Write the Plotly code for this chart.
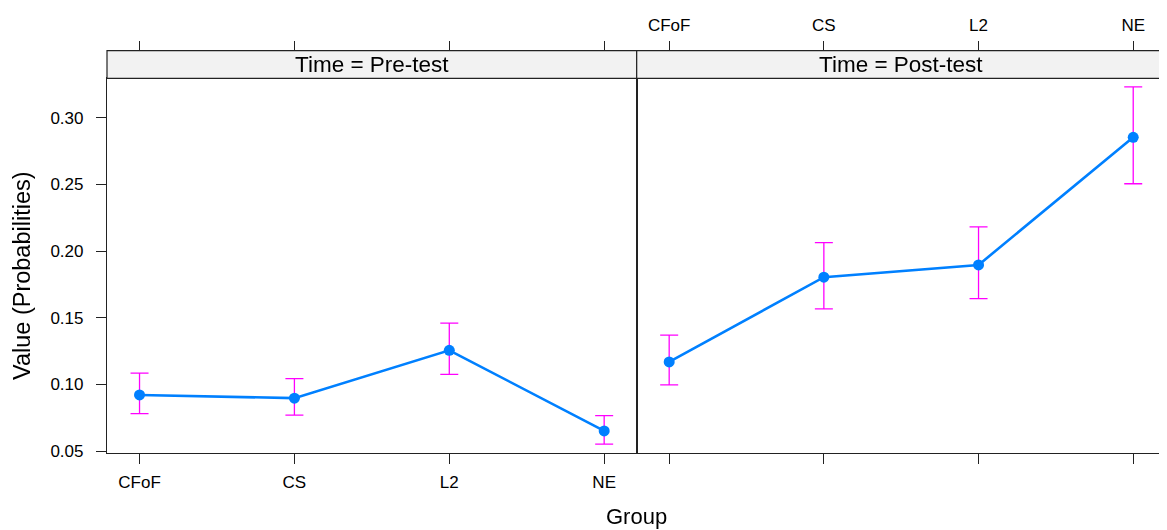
import plotly.graph_objects as go

# ---- data ----
groups = ["CFoF", "CS", "L2", "NE"]
panels = ["Pre-test", "Post-test"]
pre_value = [0.0921, 0.0897, 0.1256, 0.0651]
pre_upper = [0.1084, 0.1043, 0.1459, 0.0766]
pre_lower = [0.0781, 0.0769, 0.1076, 0.0552]
post_value = [0.1169, 0.1804, 0.1896, 0.2853]
post_upper = [0.1369, 0.2063, 0.2181, 0.3232]
post_lower = [0.0996, 0.1566, 0.1643, 0.2505]
y_ticks = [0.05, 0.10, 0.15, 0.20, 0.25, 0.30]
y_ticktext = ["0.05", "0.10", "0.15", "0.20", "0.25", "0.30"]

# page body has an 8px margin; vertical positions are corrected for the
# slight vertical squeeze observed in the captured page
OFF = 8
W, H = 1167 - OFF, 530 - OFF
SY = 538 / 530
FONT = "Liberation Sans, Arial, Helvetica, sans-serif"
BLUE = "#0080FF"
MAG = "#FF00FF"

def px_x(p):
    return (p - OFF) / W

def px_y(p):
    return (H - (p * SY - OFF)) / H

xl0, xl1, xr1 = px_x(107), px_x(636.7), px_x(1165.7)
yb, yt = px_y(453.3), px_y(78.3)
strip_top = px_y(50.5)
xrange_ = [-0.21, 3.21]
yrange_ = [0.0484, 0.3295]
xidx = list(range(len(groups)))

fig = go.Figure()
for i, (vals, up, lo) in enumerate([(pre_value, pre_upper, pre_lower),
                                    (post_value, post_upper, post_lower)]):
    xa = "x" if i == 0 else "x2"
    ya = "y" if i == 0 else "y2"
    fig.add_trace(go.Scatter(
        x=xidx, y=vals, xaxis=xa, yaxis=ya, mode="lines+markers",
        line=dict(color=BLUE, width=2.6),
        marker=dict(color=BLUE, size=11),
        error_y=dict(type="data", symmetric=False,
                     array=[u - v for u, v in zip(up, vals)],
                     arrayminus=[v - l for v, l in zip(vals, lo)],
                     color=MAG, thickness=1.3, width=9),
        showlegend=False, hoverinfo="skip"))

# invisible traces so the top tick axes are drawn
fig.add_trace(go.Scatter(x=xidx, y=pre_value, xaxis="x3", yaxis="y",
                         mode="markers", opacity=0, showlegend=False, hoverinfo="skip"))
fig.add_trace(go.Scatter(x=xidx, y=post_value, xaxis="x4", yaxis="y2",
                         mode="markers", opacity=0, showlegend=False, hoverinfo="skip"))

tickfont = dict(family=FONT, size=17, color="black")
LINE = "#222222"
common_x = dict(range=xrange_, tickvals=xidx, ticktext=groups, ticks="outside",
                ticklen=10, tickcolor=LINE, showgrid=False, zeroline=False,
                showline=True, linecolor=LINE, linewidth=1.2, mirror=True,
                tickfont=tickfont, ticklabelstandoff=3)
top_x = dict(anchor="free", position=strip_top, side="top", range=xrange_,
             tickvals=xidx, ticktext=groups, ticks="outside", ticklen=10,
             tickcolor=LINE, showgrid=False, zeroline=False, showline=False,
             tickfont=tickfont, ticklabelstandoff=3)
fig.update_layout(
    width=W, height=H, margin=dict(l=0, r=0, t=0, b=0),
    paper_bgcolor="white", plot_bgcolor="white",
    font=dict(family=FONT, color="black"),
    xaxis=dict(domain=[xl0, xl1], anchor="y", showticklabels=True, **common_x),
    xaxis2=dict(domain=[xl1, xr1], anchor="y2", showticklabels=False, **common_x),
    xaxis3=dict(domain=[xl0, xl1], overlaying="x", showticklabels=False, **top_x),
    xaxis4=dict(domain=[xl1, xr1], overlaying="x2", showticklabels=True, **top_x),
    yaxis=dict(domain=[yb, yt], anchor="x", range=yrange_, tickvals=y_ticks,
               ticktext=y_ticktext, ticks="outside", ticklen=10, tickcolor=LINE,
               showgrid=False, zeroline=False, showline=True, linecolor=LINE,
               linewidth=1.2, mirror=True, tickfont=tickfont, ticklabelstandoff=9),
    yaxis2=dict(domain=[yb, yt], anchor="x2", range=yrange_, tickvals=y_ticks,
                ticks="", showticklabels=False, showgrid=False, zeroline=False,
                showline=True, linecolor=LINE, linewidth=1.2, mirror=True),
)

for (a, b), name in zip([(xl0, xl1), (xl1, xr1)], panels):
    fig.add_shape(type="rect", xref="paper", yref="paper", x0=a, x1=b,
                  y0=yt, y1=strip_top, fillcolor="#F2F2F2",
                  line=dict(color=LINE, width=1.2), layer="above")
    fig.add_annotation(xref="paper", yref="paper", x=(a + b) / 2,
                       y=(yt + strip_top) / 2, text=f"Time = {name}",
                       showarrow=False, font=dict(family=FONT, size=22.5, color="black"),
                       xanchor="center", yanchor="middle")

fig.add_annotation(xref="paper", yref="paper", x=(xl0 + xr1) / 2, y=px_y(517),
                   text="Group", showarrow=False,
                   font=dict(family=FONT, size=22, color="black"),
                   xanchor="center", yanchor="middle")
fig.add_annotation(xref="paper", yref="paper", x=px_x(22), y=px_y(276),
                   text="Value (Probabilities)", showarrow=False, textangle=-90,
                   font=dict(family=FONT, size=23.5, color="black"),
                   xanchor="center", yanchor="middle")

fig.write_html("out.html")
